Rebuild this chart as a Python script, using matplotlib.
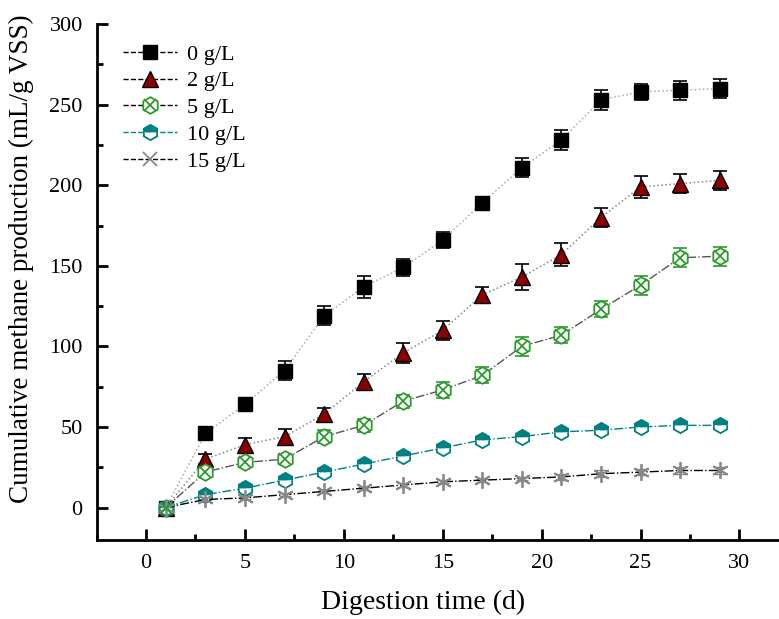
import numpy as np
import matplotlib.pyplot as plt
from matplotlib.lines import Line2D

plt.rcParams['font.family'] = ['Liberation Serif', 'DejaVu Serif']

# dias de digestion
dias = [1, 3, 5, 7, 9, 11, 13, 15, 17, 19, 21, 23, 25, 27, 29]

# produccion acumulada de metano (mL/g VSS) y desviaciones
g0 = [0, 46, 64, 85, 119, 137, 149, 166, 189, 211, 228, 253, 258, 259, 260]
g0_err = [2, 2, 3, 6, 6, 7, 5, 5, 4, 6, 6, 6, 5, 6, 6]
g2 = [0, 30, 39, 44, 58, 78, 96, 110, 132, 143, 157, 180, 199, 201, 203]
g2_err = [2, 3, 4, 5, 4, 5, 6, 6, 5, 8, 7, 6, 7, 6, 6]
g5 = [0, 22, 28, 30, 44, 51, 66, 73, 82, 100, 107, 123, 138, 155, 156]
g5_err = [2, 3, 3, 3, 4, 4, 4, 5, 5, 6, 5, 5, 6, 6, 6]
g10 = [0, 8, 12, 17, 22, 27, 32, 37, 42, 44, 47, 48, 50, 51, 51]
g10_err = [1, 1, 1, 2, 2, 2, 2, 2, 2, 2, 2, 2, 2, 2, 2]
g15 = [0, 5, 6, 8, 10, 12, 14, 16, 17, 18, 19, 21, 22, 23, 23]
g15_err = [1, 1, 1, 1, 1, 1, 1, 1, 1, 1, 2, 2, 2, 2, 2]

etiquetas = ['0 g/L', '2 g/L', '5 g/L', '10 g/L', '15 g/L']

fig = plt.figure(figsize=(7.79, 6.19), dpi=100)
ax = fig.add_axes([0.124, 0.128, 0.876, 0.833])

ebkw = dict(ecolor='black', elinewidth=1.2, capsize=5, capthick=1.2)

# 0 g/L
ax.errorbar(dias, g0, yerr=g0_err, fmt='none', **ebkw, zorder=2)
ax.plot(dias, g0, color='#aaaaaa', ls=':', lw=1.1, marker='s', ms=10,
        mfc='black', mec='black', zorder=3)
# 2 g/L
ax.errorbar(dias, g2, yerr=g2_err, fmt='none', **ebkw, zorder=2)
ax.plot(dias, g2, color='#888888', ls=':', lw=1.1, marker='^', ms=11,
        mfc='#8b0000', mec='black', zorder=3)
# 5 g/L
ax.errorbar(dias, g5, yerr=g5_err, fmt='none', ecolor='#2e9a2e', elinewidth=1.2,
            capsize=5, capthick=1.2, zorder=2)
ax.plot(dias, g5, color='#555555', ls='-.', lw=1.0, marker='h', ms=12,
        mfc='white', mec='#2e9a2e', mew=1.3, zorder=3)
ax.plot(dias, g5, ls='none', marker='x', ms=8, mec='#2e9a2e', mew=1.3, zorder=4)
# 10 g/L
ax.errorbar(dias, g10, yerr=g10_err, fmt='none', ecolor='#008080', elinewidth=1.0,
            capsize=4, capthick=1.0, zorder=2)
ax.plot(dias, g10, color='#008080', ls='-.', lw=1.0, marker='h', ms=11,
        fillstyle='top', mfc='#008080', markerfacecoloralt='white',
        mec='#008080', mew=1.3, zorder=3)
# 15 g/L
ax.errorbar(dias, g15, yerr=g15_err, fmt='none', ecolor='#888888', elinewidth=1.0,
            capsize=4, capthick=1.0, zorder=2)
ax.plot(dias, g15, color='black', ls='-.', lw=1.0, marker=(6, 2, 0), ms=12,
        mec='#888888', mew=1.3, zorder=3)

# leyenda con lineas discontinuas
handles = [
    Line2D([], [], color='black', ls='--', lw=1, marker='s', ms=10, mfc='black', mec='black'),
    Line2D([], [], color='black', ls='--', lw=1, marker='^', ms=11, mfc='#8b0000', mec='black'),
    (Line2D([], [], color='black', ls='--', lw=1, marker='h', ms=12, mfc='white',
            mec='#2e9a2e', mew=1.3),
     Line2D([], [], ls='none', marker='x', ms=8, mec='#2e9a2e', mew=1.3)),
    Line2D([], [], color='#008080', ls='--', lw=1, marker='h', ms=11, fillstyle='top',
           mfc='#008080', markerfacecoloralt='white', mec='#008080', mew=1.3),
    Line2D([], [], color='black', ls='--', lw=1, marker='x', ms=10, mec='#888888', mew=1.3),
]
ax.legend(handles, etiquetas, loc='upper left', bbox_to_anchor=(0.01, 1.0),
          frameon=False, fontsize=16, handlelength=2.4, labelspacing=0.28,
          handletextpad=0.45)

ax.set_xlim(-2.5, 32)
ax.set_ylim(-20, 300)
ax.set_xticks([0, 5, 10, 15, 20, 25, 30])
ax.set_xticks(np.arange(-2.5, 32, 2.5), minor=True)
ax.set_yticks([0, 50, 100, 150, 200, 250, 300])
ax.set_yticks(np.arange(25, 300, 50), minor=True)
ax.tick_params(axis='both', which='major', direction='in', length=8, width=2,
               labelsize=16, pad=10)
ax.tick_params(axis='both', which='minor', direction='in', length=4, width=2)
for s in ['top', 'right']:
    ax.spines[s].set_visible(False)
for s in ['left', 'bottom']:
    ax.spines[s].set_linewidth(2)

ax.set_xlabel('Digestion time (d)', fontsize=20)
ax.set_ylabel('Cumulative methane production (mL/g VSS)', fontsize=19.5)
ax.xaxis.set_label_coords(0.478, -0.122)
ax.yaxis.set_label_coords(-0.11, 0.546)
ax.xaxis.label.set_va('center')
ax.yaxis.label.set_va('center')

fig.savefig('out.png', dpi=100)
